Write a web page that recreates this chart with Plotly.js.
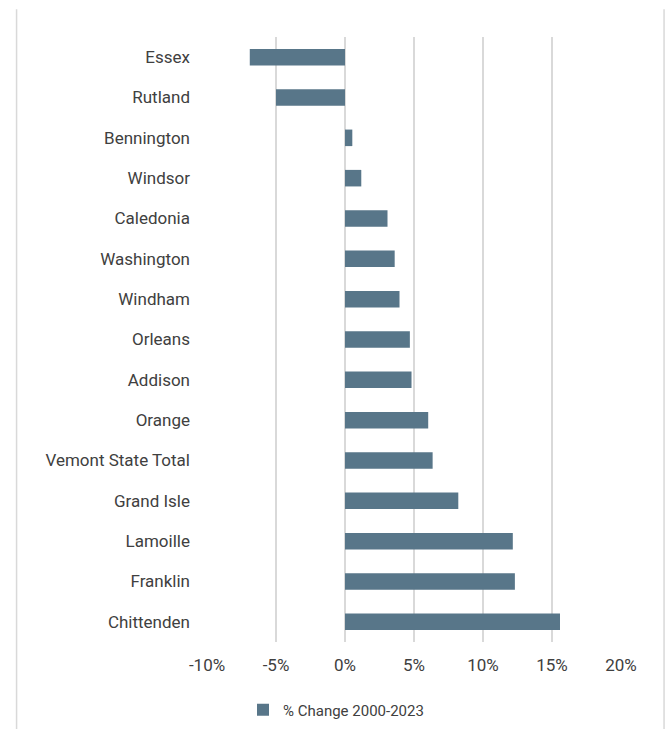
<!DOCTYPE html>
<html>
<head>
<meta charset="utf-8">
<script src="https://cdn.plot.ly/plotly-3.0.1.min.js"></script>
<style>
  html, body { margin: 0; padding: 0; background: #ffffff; }
  #chart { width: 667px; height: 729px; }
</style>
</head>
<body>
<div id="chart"></div>
<script>
// Data (top to bottom as shown in the chart)
const counties = [
  "Essex", "Rutland", "Bennington", "Windsor", "Caledonia", "Washington",
  "Windham", "Orleans", "Addison", "Orange", "Vemont State Total",
  "Grand Isle", "Lamoille", "Franklin", "Chittenden"
];
const pctChange = [
  -6.9, -5.0, 0.53, 1.18, 3.08, 3.6,
  3.95, 4.7, 4.82, 6.03, 6.35,
  8.21, 12.16, 12.31, 15.58
];
const seriesName = "% Change 2000-2023";
const xTicks = [-10, -5, 0, 5, 10, 15, 20];
const xTickLabels = ["-10%", "-5%", "0%", "5%", "10%", "15%", "20%"];

const FONT = 'Roboto, "Noto Sans", sans-serif';
const TEXT = '#404040';
const GRID = '#d9d9d9';

const trace = {
  type: 'bar',
  orientation: 'h',
  x: pctChange,
  y: counties,
  name: seriesName,
  marker: { color: '#587689' },
  hoverinfo: 'x+y'
};

const layout = {
  width: 667,
  height: 729,
  margin: { l: 207, r: 46, t: 37, b: 87 },
  paper_bgcolor: '#ffffff',
  plot_bgcolor: '#ffffff',
  font: { family: FONT, size: 17, color: TEXT },
  bargap: 0.59,
  showlegend: true,
  legend: {
    orientation: 'h',
    xref: 'paper',
    x: 0.3116, xanchor: 'center',
    yref: 'container',
    y: 0.026, yanchor: 'middle',
    font: { family: FONT, size: 15, color: TEXT },
    itemwidth: 30
  },
  xaxis: {
    range: [-10, 20],
    tickmode: 'array',
    tickvals: xTicks,
    ticktext: xTickLabels,
    showgrid: true,
    gridcolor: GRID,
    gridwidth: 1.5,
    zeroline: false,
    showline: false,
    ticks: '',
    ticklabelstandoff: 11,
    tickfont: { family: FONT, size: 17, color: TEXT },
    fixedrange: true
  },
  yaxis: {
    type: 'category',
    categoryorder: 'array',
    categoryarray: counties,
    autorange: 'reversed',
    showgrid: false,
    zeroline: false,
    showline: false,
    ticks: '',
    ticklabelstandoff: 16,
    tickfont: { family: FONT, size: 17, color: TEXT },
    fixedrange: true
  },
  shapes: [
    { type: 'line', xref: 'paper', yref: 'paper', x0: -0.46, x1: -0.46, y0: -0.144, y1: 1.046,
      line: { color: GRID, width: 1.5 } },
    { type: 'line', xref: 'paper', yref: 'paper', x0: 1.104, x1: 1.104, y0: -0.144, y1: 1.046,
      line: { color: GRID, width: 1.5 } }
  ]
};

Plotly.newPlot('chart', [trace], layout, { displayModeBar: false, staticPlot: true });
</script>
</body>
</html>
